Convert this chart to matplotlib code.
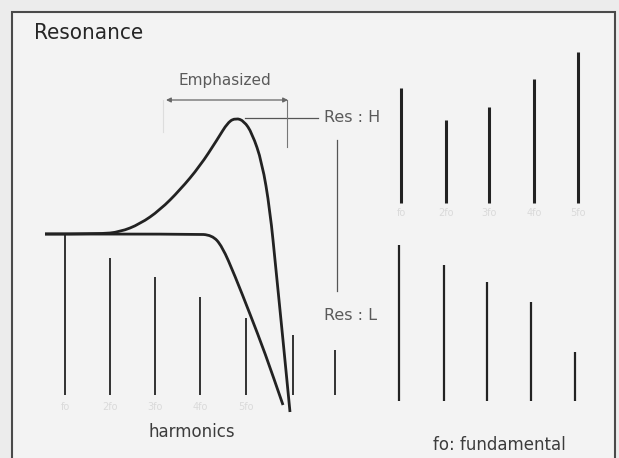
import matplotlib.pyplot as plt
from matplotlib.path import Path
from matplotlib.patches import PathPatch

# harmonicos de entrada (izquierda) - x y altura superior en pixeles del dibujo
in_x = [65, 110, 155, 200, 246, 293, 335]
in_top = [234, 258, 277, 297, 318, 335, 350]
in_base = 395

# espectro con resonancia alta (arriba derecha)
hi_x = [401, 446, 489, 534, 578]
hi_top = [88, 120, 107, 79, 52]
hi_base = 203

# espectro con resonancia baja (abajo derecha)
lo_x = [399, 444, 487, 531, 575]
lo_top = [245, 265, 282, 302, 352]
lo_base = 401

# curvas del filtro (puntos de control)
res_l_x = [45, 195, 212, 222, 235, 250, 265, 283]
res_l_y = [234, 234, 235, 246, 276, 314, 353, 405]
res_h_x = [45, 100, 120, 140, 160, 180, 200, 217, 228, 236, 244, 252, 262, 270, 276, 283, 290]
res_h_y = [234, 234, 232, 224, 210, 190, 166, 140, 122, 118, 121, 133, 162, 210, 270, 340, 412]

fo_labels = ["fo", "2fo", "3fo", "4fo", "5fo"]

ink = "#222222"
txt = "#5a5a5a"


def smooth(xs, ys):
    # curva cuadratica que pasa por los puntos medios (suavizado visual)
    pts = list(zip(xs, ys))
    verts = [pts[0]]
    codes = [Path.MOVETO]
    for i in range(1, len(pts) - 1):
        mid = ((pts[i][0] + pts[i + 1][0]) / 2, (pts[i][1] + pts[i + 1][1]) / 2)
        verts += [pts[i], mid]
        codes += [Path.CURVE3, Path.CURVE3]
    verts.append(pts[-1])
    codes.append(Path.LINETO)
    return Path(verts, codes)


fig = plt.figure(figsize=(6.19, 4.58), dpi=100)
fig.patch.set_facecolor("#ececec")
ax = fig.add_axes([0, 0, 1, 1])
ax.set_xlim(0, 619)
ax.set_ylim(458, 0)
ax.axis("off")

# marco
ax.add_patch(plt.Rectangle((12, 12), 603, 460, facecolor="#f3f3f3",
                           edgecolor="#4a4a4a", linewidth=1.5))

ax.text(34, 33, "Resonance", fontsize=16, color="#262626",
        family="DejaVu Sans", fontstretch="condensed", va="center", ha="left")

# barras
for x, t in zip(in_x, in_top):
    ax.plot([x, x], [in_base, t], color=ink, lw=1.3, solid_capstyle="butt")
for x, t in zip(hi_x, hi_top):
    ax.plot([x, x], [hi_base, t], color=ink, lw=2.2, solid_capstyle="butt")
for x, t in zip(lo_x, lo_top):
    ax.plot([x, x], [lo_base, t], color=ink, lw=1.6, solid_capstyle="butt")

# etiquetas tenues
for x, lab in zip(in_x[:5], fo_labels):
    ax.text(x, 407, lab, fontsize=7, color="#dadada", ha="center", va="center")
for x, lab in zip(hi_x, fo_labels):
    ax.text(x, 213, lab, fontsize=7, color="#dadada", ha="center", va="center")

# curvas
for xs, ys in [(res_l_x, res_l_y), (res_h_x, res_h_y)]:
    ax.add_patch(PathPatch(smooth(xs, ys), facecolor="none", edgecolor=ink,
                           lw=2.0, joinstyle="round"))

# anotaciones
ax.plot([245, 318], [118, 118], color="#555555", lw=0.9)
ax.text(324, 118, "Res : H", fontsize=11.5, color=txt, va="center", ha="left")
ax.plot([337, 337], [140, 291], color="#555555", lw=0.9)
ax.text(324, 315, "Res : L", fontsize=11.5, color=txt, va="center", ha="left")

ax.text(225, 80, "Emphasized", fontsize=11, color=txt, ha="center", va="center")
ax.annotate("", xy=(166, 100), xytext=(288, 100),
            arrowprops=dict(arrowstyle="<|-|>", color="#666666", lw=0.9,
                            mutation_scale=7, shrinkA=0, shrinkB=0))
ax.plot([287, 287], [100, 147], color="#777777", lw=0.8)
ax.plot([163, 163], [100, 132], color="#dddddd", lw=0.8)

ax.text(192, 432, "harmonics", fontsize=12, color="#3c3c3c", ha="center",
        va="center")
ax.text(499, 445, "fo: fundamental", fontsize=12, color="#3c3c3c", ha="center",
        va="center")

fig.savefig("out.png", dpi=100, facecolor=fig.get_facecolor())
